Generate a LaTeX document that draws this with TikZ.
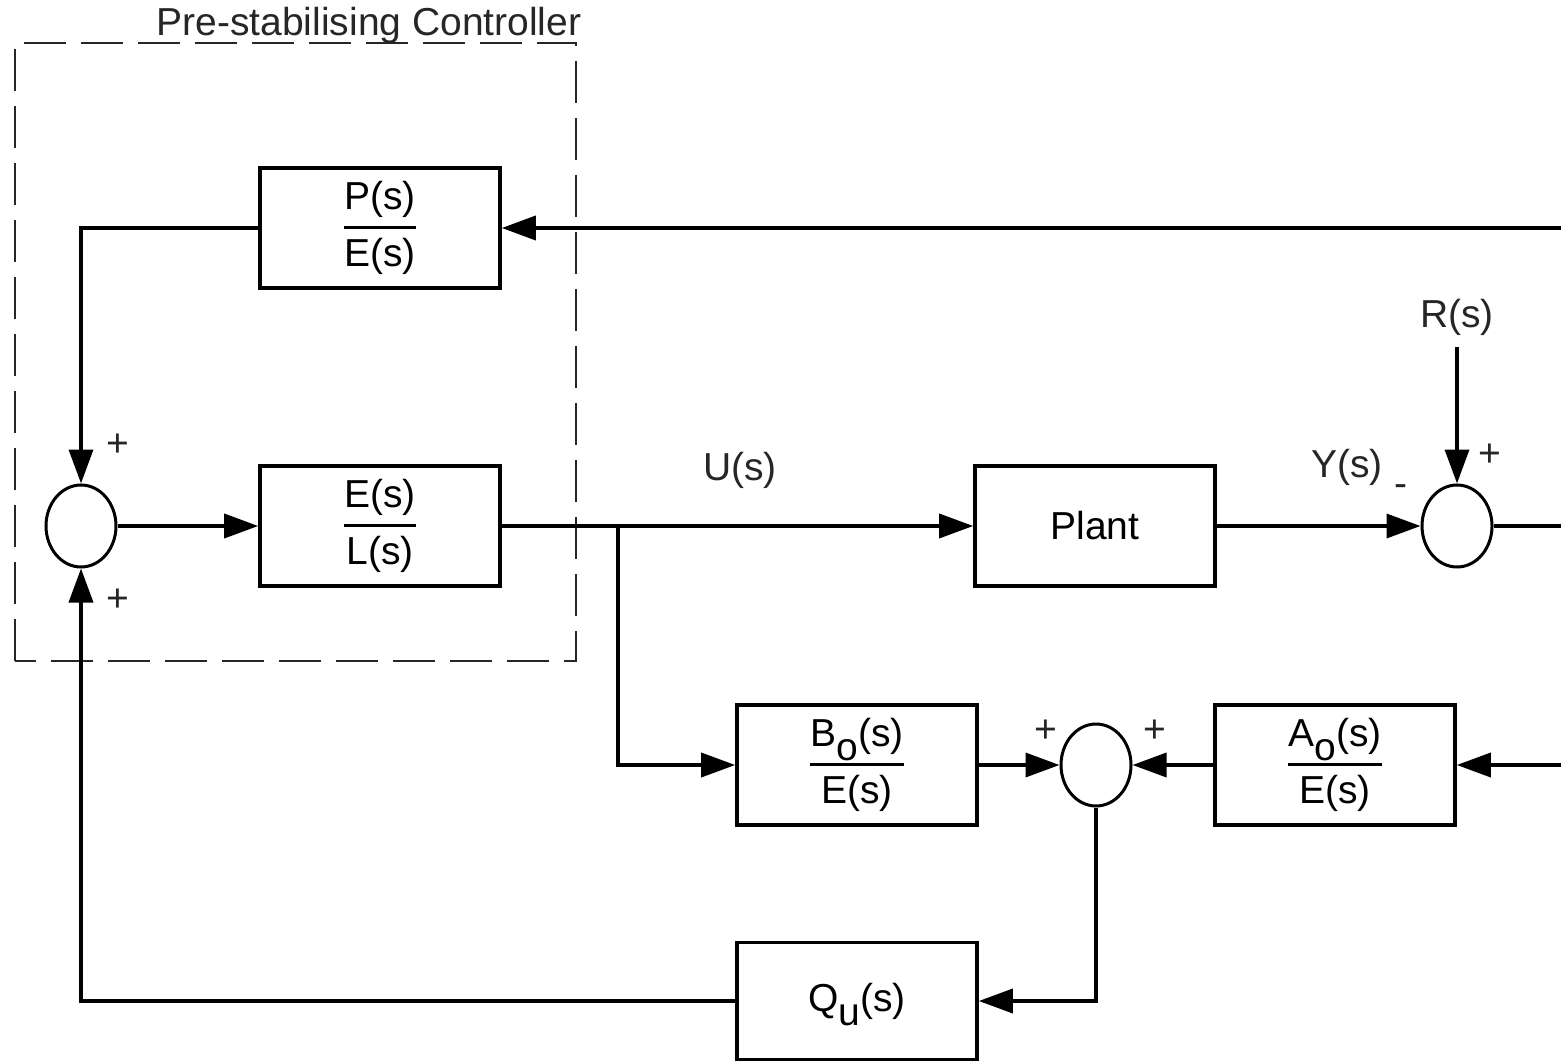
\documentclass[tikz,border=0pt]{standalone}
\usepackage{amsmath}
\usepackage{fontspec}
\setmainfont{Liberation Sans}
\usetikzlibrary{arrows.meta,shapes.geometric}
\newcommand{\fr}[2]{$\genfrac{}{}{1.5pt}{0}{\mbox{#1}}{\mbox{#2}}$}
\newcommand{\lowsub}[1]{\smash{\raisebox{-0.36em}{#1}}}
\begin{document}
\begin{tikzpicture}[x=0.5pt,y=-0.5pt,line width=1.8pt,
  >={Triangle[length=17pt,width=12pt]},
  box/.style={draw,rectangle,minimum width=120pt,minimum height=60pt,inner sep=0pt,font=\fontsize{19.5}{22}\selectfont},
  sumnode/.style={draw,ellipse,minimum width=35pt,minimum height=41pt,inner sep=0pt,line width=1.5pt},
  lbl/.style={inner sep=0pt,font=\fontsize{19.5}{22}\selectfont,text=black!85},
  sgn/.style={inner sep=0pt,font=\fontsize{19.5}{22}\selectfont,text=black!85},
  dashbox/.style={draw=black!85,line width=0.75pt,dash pattern=on 21pt off 7.5pt}]
\useasboundingbox (0,0) rectangle (1561,1063);
% dashed controller region
\draw[dashbox] (15,661) -- (15,43) -- (576,43) -- (576,661) -- cycle;
\node[lbl,anchor=base] (title) at (369,36) {Pre-stabilising Controller};
% blocks
\node[box] (PE) at (380,228) {\fr{P(s)}{E(s)}};
\node[box] (EL) at (380,526) {\fr{E(s)}{L(s)}};
\node[box] (plant) at (1095,526) {Plant};
\node[box] (BO) at (857,765) {\fr{B\lowsub{o}(s)}{E(s)}};
\node[box] (AO) at (1335,765) {\fr{A\lowsub{o}(s)}{E(s)}};
\node[box,minimum height=58.5pt] (QU) at (857,1001) {Q\lowsub{u}(s)};
% summing junctions
\node[sumnode] (s1) at (81,526) {};
\node[sumnode] (s2) at (1457,526) {};
\node[sumnode] (s3) at (1096,765) {};
% free ends
\coordinate (inP) at (1561,228);
\coordinate (outY) at (1561,526);
\coordinate (inA) at (1561,765);
\coordinate (j) at (618,526);
% labels
\node[lbl,inner sep=5pt] (R) at (1457,317) {R(s)};
\node[lbl] (U) at (740,470) {U(s)};
\node[lbl] (Y) at (1347,467) {Y(s)};
\node[sgn] (m2) at (1401,491) {-};
\node[sgn] (p2) at (1490,455) {+};
\node[sgn] (p1a) at (118,445) {+};
\node[sgn] (p1b) at (118,600) {+};
\node[sgn] (p3a) at (1046,731) {+};
\node[sgn] (p3b) at (1155,731) {+};
% connectors
\draw[->] (inP) -- (PE.east);
\draw[->] (PE.west) -| (s1.north);
\draw[->] (s1.east) -- (EL.west);
\draw[->] (EL.east) -- (plant.west);
\draw[->] (j) |- (BO.west);
\draw[->] (plant.east) -- (s2.west);
\draw[->] (R.south) -- (s2.north);
\draw (s2.east) -- (outY);
\draw[->] (BO.east) -- (s3.west);
\draw[->] (AO.west) -- (s3.east);
\draw[->] (inA) -- (AO.east);
\draw[->] (s3.south) |- (QU.east);
\draw[->] (QU.west) -| (s1.south);
\end{tikzpicture}
\end{document}
